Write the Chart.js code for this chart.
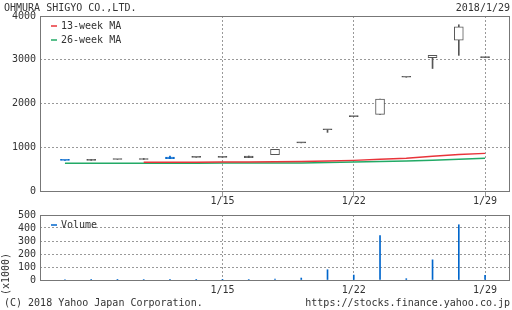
<!DOCTYPE html>
<html><head><meta charset="utf-8">
<script src="https://cdn.jsdelivr.net/npm/chart.js@4"></script>
<style>
html,body{margin:0;padding:0;background:#fff;}
#wrap{position:relative;width:512px;height:310px;overflow:hidden;font-family:'DejaVu Sans Mono',monospace;font-size:10px;color:#333;}
.t{position:absolute;white-space:nowrap;line-height:12px;}
canvas{position:absolute;left:0;}
</style></head><body>
<div id="wrap">
<canvas id="price" width="512" height="205" style="top:0;width:512px;height:205px"></canvas>
<canvas id="vol" width="512" height="105" style="top:205px;width:512px;height:105px"></canvas>
<div class="t" id="title" style="left:4px;top:1.5px">OHMURA SHIGYO CO.,LTD.</div>
<div class="t" id="asof" style="right:2px;top:1.5px">2018/1/29</div>
<div class="t" id="unit" style="left:-15px;top:268px;width:42px;text-align:center;transform:rotate(-90deg);transform-origin:center">(x1000)</div>
<div class="t" id="copy" style="left:4px;top:296.5px">(C) 2018 Yahoo Japan Corporation.</div>
<div class="t" id="url" style="right:2px;top:296.5px">https://stocks.finance.yahoo.co.jp</div>
</div>
<script>
// ---- data ----
const dates  = ['1/4','1/5','1/9','1/10','1/11','1/12','1/15','1/16','1/17','1/18','1/19','1/22','1/23','1/24','1/25','1/26','1/29'];
const open   = [700,700,720,720,776,770,770,800,830,1100,1400,1700,1750,2600,3050,3450,3050];
const high   = [700,720,720,745,800,770,770,800,950,1100,1400,1700,2100,2600,3100,3800,3050];
const low    = [700,700,720,720,740,770,770,762,830,1100,1340,1700,1750,2600,2800,3100,3050];
const close  = [700,700,720,720,740,770,770,762,950,1100,1400,1700,2100,2600,3100,3750,3050];
const ma13   = [null,null,null,658,659,660,662,664,666,673,684,700,724,750,793,834,860];
const ma26   = [632,633,634,635,636,637,638,639,640,642,650,661,673,685,702,724,748];
const volume = [4,3,5,4,6,3,2,4,8,15,79,38,341,10,155,425,35];
const markedDays  = ['1/4','1/11'];
const axisDates   = ['1/15','1/22','1/29'];
const priceTicks  = [0,1000,2000,3000,4000];
const volumeTicks = [0,100,200,300,400,500];

// ---- styles ----
const GRAY='#555', BLUE='#0066cc', RED='#e8343a', GREEN='#22aa66', GRID='#999', FRAME='#777', TEXT='#333';
Chart.defaults.font.family = "'DejaVu Sans Mono', monospace";
Chart.defaults.font.size = 10;
Chart.defaults.color = TEXT;

const pos = i => i + 1;
const isMarked = i => markedDays.includes(dates[i]);
const candleColor = i => isMarked(i) ? BLUE : GRAY;

const framePlugin = {
  id: 'frameLegend',
  afterDatasetsDraw(chart) {
    const {ctx, chartArea: a} = chart;
    ctx.save();
    ctx.strokeStyle = FRAME; ctx.lineWidth = 1;
    ctx.strokeRect(Math.round(a.left) + 0.5, Math.round(a.top) + 0.5, Math.round(a.right - a.left) - 1, Math.round(a.bottom - a.top));
    const items = chart.data.datasets.filter(d => d.inLegend);
    ctx.font = "10px 'DejaVu Sans Mono', monospace";
    ctx.textBaseline = 'middle';
    items.forEach((d, k) => {
      const y = Math.round(a.top) + 10 + 14 * k;
      ctx.strokeStyle = d.legendColor; ctx.lineWidth = 1.5;
      ctx.beginPath(); ctx.moveTo(a.left + 11, y); ctx.lineTo(a.left + 17, y); ctx.stroke();
      ctx.fillStyle = TEXT;
      ctx.fillText(d.label, a.left + 21, y + 0.5);
    });
    ctx.restore();
  }
};

function xScale(height, tickLen) {
  return {
    type: 'linear', min: 0.05, max: 17.95, offset: false, bounds: 'ticks',
    grid: { color: GRID, lineWidth: 1, drawTicks: tickLen > 0, tickLength: tickLen, offset: false },
    border: { display: false, dash: [2, 2] },
    afterDataLimits: s => { s.min = 0.05; s.max = 17.95; },
    afterBuildTicks: s => { s.ticks = axisDates.map(d => ({ value: pos(dates.indexOf(d)) })); },
    ticks: { padding: 4 - tickLen, autoSkip: false, maxRotation: 0, callback: v => dates[v - 1] },
    afterFit: s => { s.height = height; }
  };
}
function yScale(max, list) {
  return {
    min: 0, max: max,
    afterBuildTicks: s => { s.ticks = list.map(v => ({ value: v })); },
    grid: { color: c => (c.tick && (c.tick.value === 0 || c.tick.value === max)) ? 'rgba(0,0,0,0)' : GRID, drawTicks: false },
    border: { display: false, dash: [2, 2] },
    ticks: { padding: 4, autoSkip: false, callback: v => String(v) },
    afterFit: s => { s.width = 40; }
  };
}

new Chart(document.getElementById('price'), {
  type: 'bar',
  data: {
    datasets: [
      {
        type: 'bar', label: 'body', grouped: false, barThickness: 9, minBarLength: 1,
        data: dates.map((d, i) => ({ x: pos(i), y: [Math.min(open[i], close[i]), Math.max(open[i], close[i])] })),
        backgroundColor: dates.map((d, i) => isMarked(i) ? BLUE : (close[i] > open[i] ? '#ffffff' : GRAY)),
        borderColor: dates.map((d, i) => candleColor(i)),
        borderWidth: 1, borderSkipped: false
      },
      {
        type: 'bar', label: 'wick', grouped: false, barThickness: 1,
        data: dates.map((d, i) => ({ x: pos(i), y: [low[i], high[i]] })),
        backgroundColor: dates.map((d, i) => candleColor(i)), borderWidth: 0
      },
      {
        type: 'line', label: '13-week MA', inLegend: true, legendColor: RED,
        data: dates.map((d, i) => ({ x: pos(i), y: ma13[i] })),
        borderColor: RED, borderWidth: 1.5, pointRadius: 0, tension: 0, spanGaps: false
      },
      {
        type: 'line', label: '26-week MA', inLegend: true, legendColor: GREEN,
        data: dates.map((d, i) => ({ x: pos(i), y: ma26[i] })),
        borderColor: GREEN, borderWidth: 1.5, pointRadius: 0, tension: 0
      }
    ]
  },
  options: {
    responsive: false, animation: false,
    layout: { padding: { left: 0, right: 2, top: 16, bottom: 0 } },
    plugins: { legend: { display: false }, tooltip: { enabled: false } },
    scales: { x: xScale(14, 6), y: yScale(4000, priceTicks) }
  },
  plugins: [framePlugin]
});

new Chart(document.getElementById('vol'), {
  type: 'bar',
  data: {
    datasets: [{
      type: 'bar', label: 'Volume', inLegend: true, legendColor: BLUE, grouped: false, barThickness: 1,
      data: volume.map((v, i) => ({ x: pos(i), y: v })),
      backgroundColor: BLUE, borderWidth: 0
    }]
  },
  options: {
    responsive: false, animation: false,
    layout: { padding: { left: 0, right: 2, top: 10, bottom: 0 } },
    plugins: { legend: { display: false }, tooltip: { enabled: false } },
    scales: { x: xScale(30, 0), y: yScale(500, volumeTicks) }
  },
  plugins: [framePlugin]
});
</script>
</body></html>
